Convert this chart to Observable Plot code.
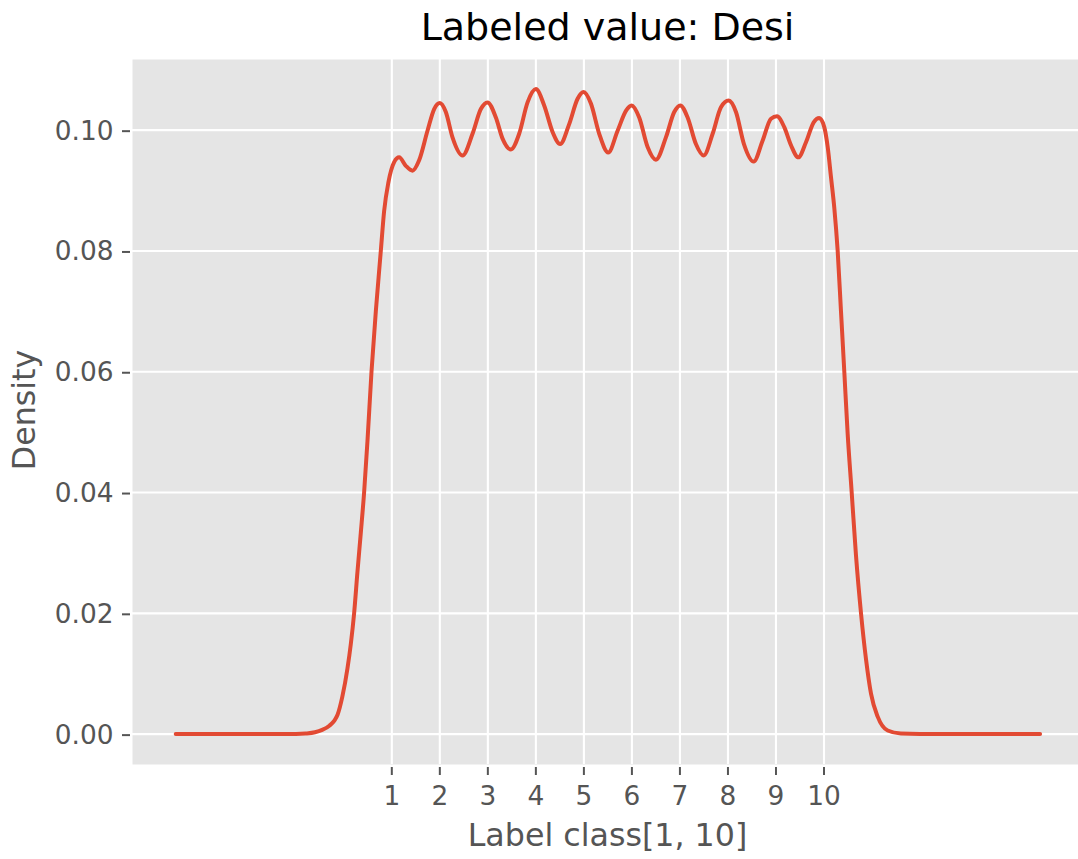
<!DOCTYPE html>
<html>
<head>
<meta charset="utf-8">
<script src="https://cdn.jsdelivr.net/npm/d3@7"></script>
<script src="https://cdn.jsdelivr.net/npm/@observablehq/plot@0.6"></script>
<style>
  html, body { margin: 0; padding: 0; background: #ffffff; overflow: hidden; }
  #chart svg { display: block; }
</style>
</head>
<body>
<div id="chart"></div>
<script>
// Kernel density estimate of the labeled class value
const kdeX = [
  -3.5, -2.5, -1.5, -1.0, -0.8, -0.6, -0.45, -0.3, -0.2, -0.13, -0.03,
  0.077, 0.146, 0.215, 0.285, 0.354, 0.423, 0.493, 0.577, 0.667, 0.771,
  0.84, 0.93, 1.049, 1.153, 1.292, 1.431, 1.569, 1.743, 1.882, 2.0,
  2.125, 2.264, 2.473, 2.681, 2.854, 2.993, 3.167, 3.306, 3.479, 3.652,
  3.827, 4.0, 4.173, 4.348, 4.506, 4.694, 4.869, 4.994, 5.146, 5.319,
  5.507, 5.702, 5.875, 5.994, 6.152, 6.327, 6.5, 6.708, 6.881, 7.006,
  7.16, 7.333, 7.494, 7.681, 7.854, 8.015, 8.167, 8.333, 8.535, 8.723,
  8.896, 9.021, 9.173, 9.313, 9.465, 9.625, 9.785, 9.902, 10.006, 10.077,
  10.146, 10.215, 10.285, 10.354, 10.423, 10.493, 10.577, 10.667, 10.771, 10.875,
  10.979, 11.118, 11.326, 11.6, 12.0, 13.0, 14.5
];
const kdeDensity = [
  0, 0, 0, 0.00003, 0.0001, 0.0003, 0.0007, 0.0014, 0.0022, 0.0032, 0.0062,
  0.0109, 0.0149, 0.020, 0.0269, 0.0333, 0.040, 0.0485, 0.060, 0.070, 0.080,
  0.0866, 0.0914, 0.0947, 0.0955, 0.0941, 0.0933, 0.0950, 0.0999, 0.1035, 0.1045,
  0.1030, 0.0988, 0.0958, 0.0994, 0.1035, 0.1046, 0.1021, 0.0986, 0.0968, 0.0994,
  0.1046, 0.1068, 0.1041, 0.0997, 0.0977, 0.1010, 0.1052, 0.1063, 0.1044, 0.0994,
  0.0963, 0.0999, 0.1032, 0.1041, 0.1021, 0.0972, 0.0951, 0.0988, 0.1030, 0.1041,
  0.1021, 0.0977, 0.0958, 0.0994, 0.1038, 0.1049, 0.1030, 0.0977, 0.0948, 0.0983,
  0.1019, 0.1023, 0.1005, 0.0975, 0.0955, 0.0980, 0.1013, 0.1020, 0.1005, 0.0972,
  0.0922, 0.0871, 0.080, 0.070, 0.060, 0.0497, 0.040, 0.0295, 0.020, 0.0124,
  0.0067, 0.0029, 0.0006, 0.0001, 0.00002, 0, 0
];

const xTicks = [1, 2, 3, 4, 5, 6, 7, 8, 9, 10];
const yTicks = [0, 0.02, 0.04, 0.06, 0.08, 0.10];

const titleText = "Labeled value: Desi";
const xLabel = "Label class[1, 10]";
const yLabel = "Density";

const kde = kdeX.map((x, i) => ({x, density: kdeDensity[i]}));

const labelGray = "#555555";

const chart = Plot.plot({
  width: 1078,
  height: 859,
  marginLeft: 132,
  marginRight: 0,
  marginTop: 59,
  marginBottom: 95,
  style: {fontFamily: "'DejaVu Sans', sans-serif", background: "#ffffff", overflow: "visible"},
  x: {domain: [-4.4, 15.3]},
  y: {domain: [-0.00503, 0.1117]},
  marks: [
    Plot.frame({fill: "#E5E5E5", stroke: "none"}),
    Plot.gridX(xTicks, {stroke: "#ffffff", strokeOpacity: 1, strokeWidth: 2.1}),
    Plot.gridY(yTicks, {stroke: "#ffffff", strokeOpacity: 1, strokeWidth: 2.1}),
    Plot.axisX(xTicks, {
      label: null, tickSize: 8, tickPadding: 11, dy: 3,
      fontSize: 26.4, fill: labelGray, stroke: labelGray, strokeWidth: 2
    }),
    Plot.axisY(yTicks, {
      label: null, tickSize: 8, tickPadding: 9, dx: -2, dy: 1,
      tickFormat: d3.format(".2f"),
      fontSize: 26.4, fill: labelGray, stroke: labelGray, strokeWidth: 2
    }),
    Plot.line(kde, {x: "x", y: "density", stroke: "#E24A33", strokeWidth: 4, curve: "monotone-x"}),
    // title and axis labels
    Plot.text([titleText], {
      frameAnchor: "top", textAnchor: "middle", lineAnchor: "middle",
      dx: 2, dy: -31.5, fontSize: 38, fill: "#000000"
    }),
    Plot.text([xLabel], {
      frameAnchor: "bottom", textAnchor: "middle", lineAnchor: "middle",
      dx: 2, dy: 71.4, fontSize: 31.7, fill: labelGray
    }),
    Plot.text([yLabel], {
      frameAnchor: "left", textAnchor: "middle", lineAnchor: "middle", rotate: -90,
      dx: -107.8, dy: -2, fontSize: 31.7, fill: labelGray
    })
  ]
});

document.getElementById("chart").appendChild(chart);
</script>
</body>
</html>
